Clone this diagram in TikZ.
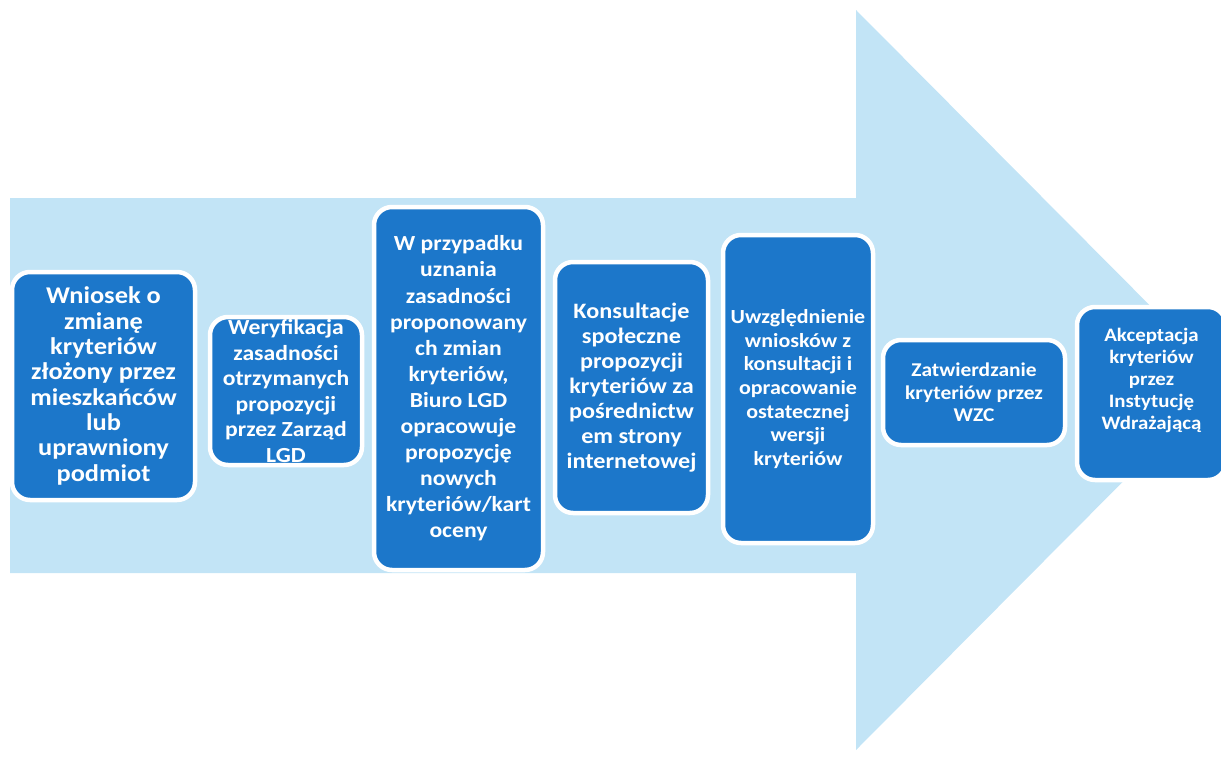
\documentclass[tikz,border=0pt]{standalone}
\usepackage{fontspec}
\setmainfont{Carlito}[FakeStretch=1.1]
\definecolor{arrowblue}{RGB}{194,228,246}
\definecolor{boxblue}{RGB}{28,119,202}
\newcommand{\boxfont}[2]{\bfseries\fontsize{#1}{#2}\selectfont}
\begin{document}
\begin{tikzpicture}[x=1pt,y=-1pt,%
  stepbox/.style={rectangle,rounded corners=18pt,fill=boxblue,draw=white,line width=4.5pt,text=white,align=center,inner sep=0pt}]%
\useasboundingbox (0,0) rectangle (1221,756);%
% big arrow behind the steps
\fill[arrowblue] (10,198) -- (856,198) -- (856,10) -- (1224,380) -- (856,750) -- (856,573) -- (10,573) -- cycle;%
%
\node[stepbox,minimum width=183,minimum height=228,font=\boxfont{24}{25.3}] (wniosek) at (103.5,386) {Wniosek o\\zmianę\\kryteriów\\złożony przez\\mieszkańców\\lub\\uprawniony\\podmiot};%
\node[stepbox,minimum width=152,minimum height=148,font=\boxfont{21.5}{25.6}] (weryfikacja) at (286,391) {Weryfikacja\\zasadności\\otrzymanych\\propozycji\\przez Zarząd\\LGD};%
\node[stepbox,minimum width=169,minimum height=363,font=\boxfont{21.5}{26.1}] (zasadnosc) at (458.5,388.5) {W przypadku\\uznania\\zasadności\\proponowany\\ch zmian\\kryteriów,\\Biuro LGD\\opracowuje\\propozycję\\nowych\\kryteriów/kart\\oceny};%
\node[stepbox,minimum width=153,minimum height=251,font=\boxfont{22}{25}] (konsultacje) at (631.5,387.5) {Konsultacje\\społeczne\\propozycji\\kryteriów za\\pośrednictw\\em strony\\internetowej};%
\node[stepbox,minimum width=150,minimum height=308,font=\boxfont{20}{23.7}] (uwzglednienie) at (798,389) {Uwzględnienie\\wniosków z\\konsultacji i\\opracowanie\\ostatecznej\\wersji\\kryteriów};%
\node[stepbox,minimum width=182,minimum height=105,font=\boxfont{19.5}{22.5}] (zatwierdzanie) at (974,392.5) {Zatwierdzanie\\kryteriów przez\\WZC};%
\node[stepbox,minimum width=149,minimum height=173,font=\boxfont{19}{22}] (akceptacja) at (1151.5,393.5) {Akceptacja\\kryteriów\\przez\\Instytucję\\Wdrażającą\\\strut};%
%
\end{tikzpicture}
\end{document}
